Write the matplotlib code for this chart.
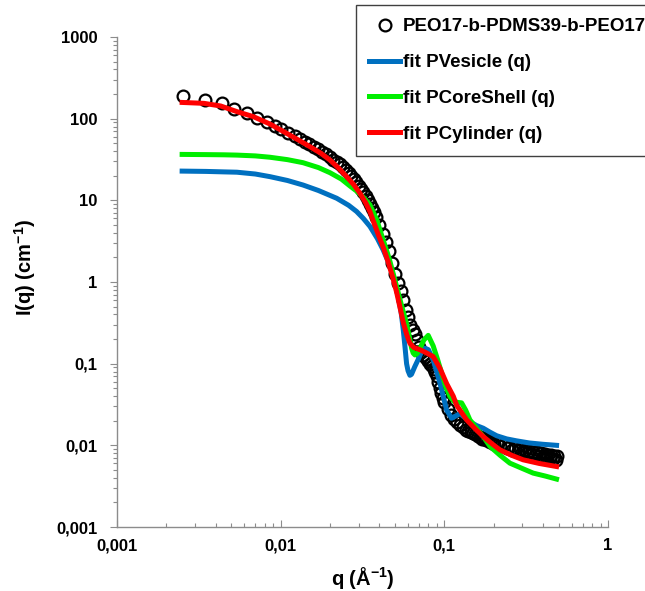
"""SAXS curve PEO17-b-PDMS39-b-PEO17 with three form-factor fits (log-log)."""
import numpy as np
import matplotlib
matplotlib.use("Agg")
import matplotlib.pyplot as plt
from matplotlib.ticker import LogLocator, FuncFormatter

plt.rcParams["font.family"] = "Liberation Sans"
plt.rcParams["font.weight"] = "bold"
plt.rcParams["mathtext.fontset"] = "custom"
plt.rcParams["mathtext.rm"] = "Liberation Sans"
plt.rcParams["mathtext.bf"] = "Liberation Sans:bold"

q_data = [0.00254, 0.00345, 0.00436, 0.00521, 0.0062, 0.0072, 0.0082, 0.0092, 0.0101, 0.0111, 0.0122,
          0.0131, 0.0141, 0.0150, 0.0160, 0.0170, 0.0180, 0.0190, 0.0200, 0.0210, 0.0220, 0.0230,
          0.0240, 0.0250, 0.0260, 0.0270, 0.0280, 0.0290, 0.0300, 0.0310, 0.0320, 0.0330, 0.0340,
          0.0350, 0.0360, 0.0370, 0.0380,
          0.040, 0.042, 0.044, 0.046, 0.048, 0.050, 0.052, 0.054, 0.056, 0.058, 0.060, 0.062, 0.064,
          0.066, 0.068, 0.070, 0.072, 0.074, 0.076, 0.078, 0.080, 0.082, 0.084, 0.086, 0.088, 0.090,
          0.092, 0.094, 0.096, 0.098, 0.100,
          0.105, 0.110, 0.115, 0.120, 0.125, 0.130, 0.135, 0.140, 0.145,
          0.150, 0.155, 0.160, 0.165, 0.170, 0.175, 0.180, 0.185, 0.190, 0.195,
          0.20, 0.21, 0.22, 0.23, 0.24, 0.25, 0.26, 0.27, 0.28, 0.29, 0.30, 0.31, 0.32, 0.33, 0.34,
          0.35, 0.36, 0.37, 0.38, 0.39, 0.40, 0.41, 0.42, 0.43, 0.44, 0.45, 0.46, 0.47, 0.48, 0.485]
I_data = [192, 171, 154, 131, 117, 102, 91, 81, 74, 67, 61,
          56.5, 52.5, 49, 45.5, 42.3, 39.4, 36.5, 33.8, 31.6, 29.5, 27.5,
          25.5, 23.6, 21.8, 20.0, 18.3, 16.6, 15.0, 13.8, 12.6, 11.3, 10.1,
          9.0, 8.0, 7.1, 6.3,
          5.0, 3.9, 3.1, 2.4, 1.7, 1.25, 0.98, 0.78, 0.60, 0.46, 0.37, 0.30, 0.26,
          0.23, 0.195, 0.16, 0.138, 0.128, 0.121, 0.115, 0.107, 0.100, 0.093, 0.086, 0.078, 0.071,
          0.060, 0.051, 0.044, 0.038, 0.034,
          0.028, 0.0238, 0.0212, 0.0192, 0.0176, 0.0167, 0.0156, 0.0151, 0.0144,
          0.0140, 0.0136, 0.0129, 0.0127, 0.0121, 0.0122, 0.0115, 0.0117, 0.0110, 0.0111,
          0.0104, 0.0106, 0.0098, 0.0100, 0.0093, 0.0095, 0.0088, 0.0092, 0.0085, 0.0090, 0.0082,
          0.0088, 0.0080, 0.0086, 0.0077, 0.0084, 0.0076, 0.0082, 0.0074, 0.0080, 0.0072, 0.0079,
          0.0071, 0.0077, 0.0069, 0.0076, 0.0068, 0.0074, 0.0067, 0.0073]

# fit PVesicle
q_blue = [0.0025, 0.0035, 0.0045, 0.0054, 0.0070, 0.0086, 0.0110, 0.0137, 0.0170, 0.0220, 0.0260,
          0.0291, 0.0320, 0.0351, 0.0390, 0.0423, 0.0450, 0.0476, 0.0500, 0.0523, 0.0545, 0.0561,
          0.0575, 0.0588, 0.0600, 0.0616, 0.0630, 0.0660, 0.0693, 0.0725, 0.0761, 0.0800, 0.0855,
          0.0900, 0.0940, 0.0990, 0.1033, 0.1108, 0.1180, 0.1245, 0.1330, 0.1433, 0.1570, 0.1730,
          0.1900, 0.2090, 0.2400, 0.2765, 0.3300, 0.4000, 0.4850]
I_blue = [22.8, 22.6, 22.3, 22.1, 21.0, 19.5, 17.5, 15.4, 13.2, 10.6, 8.7,
          7.3, 6.0, 4.8, 3.4, 2.47, 1.85, 1.41, 1.0, 0.66, 0.42, 0.26,
          0.16, 0.10, 0.082, 0.072, 0.074, 0.092, 0.113, 0.140, 0.155, 0.148, 0.111,
          0.078, 0.058, 0.038, 0.027, 0.0215, 0.023, 0.0245, 0.022, 0.0195, 0.0175, 0.0162,
          0.0145, 0.0131, 0.0120, 0.01135, 0.0107, 0.0103, 0.0100]

# fit PCoreShell
q_green = [0.0025, 0.0035, 0.0045, 0.0054, 0.0070, 0.0086, 0.0110, 0.0137, 0.0170, 0.0200, 0.0235,
           0.0265, 0.0291, 0.0320, 0.0351, 0.0385, 0.0423, 0.0460, 0.0511, 0.0550, 0.0588, 0.0615,
           0.0631, 0.0645, 0.0661, 0.0680, 0.0700, 0.0750, 0.0797, 0.0855, 0.0910, 0.0963, 0.1020,
           0.1082, 0.1145, 0.1210, 0.1275, 0.1350, 0.1433, 0.1580, 0.1729, 0.1900, 0.2200, 0.2515,
           0.3000, 0.3490, 0.4150, 0.4850]
I_green = [36.5, 36.3, 36.1, 35.8, 35.0, 33.7, 31.5, 28.9, 25.2, 21.8, 18.2,
           15.0, 13.0, 10.9, 8.8, 5.9, 3.27, 1.95, 0.88, 0.50, 0.31, 0.20,
           0.155, 0.135, 0.128, 0.132, 0.145, 0.195, 0.222, 0.165, 0.112, 0.0765, 0.052,
           0.0396, 0.0345, 0.0335, 0.0331, 0.027, 0.0205, 0.0160, 0.0128, 0.0097, 0.0075, 0.00605,
           0.0052, 0.00457, 0.0042, 0.00386]

# fit PCylinder
q_red = [0.0025, 0.0034, 0.0043, 0.0054, 0.0068, 0.0086, 0.0109, 0.0128, 0.0151, 0.0175, 0.0200,
         0.0225, 0.0253, 0.0280, 0.0305, 0.0330, 0.0351, 0.0368, 0.0395, 0.0425, 0.0454, 0.0485,
         0.0511, 0.0537, 0.0561, 0.0590, 0.0616, 0.0650, 0.0710, 0.0780, 0.0855, 0.0940, 0.1033,
         0.1134, 0.1189, 0.1368, 0.1550, 0.1729, 0.1950, 0.2186, 0.2600, 0.3030, 0.3800, 0.4850]
I_red = [158, 154, 143, 122, 106, 86, 66, 55, 45.4, 38, 31.2,
         25, 19.5, 15.5, 12.2, 9.4, 7.3, 5.6, 3.8, 2.6, 1.75, 1.12,
         0.75, 0.48, 0.32, 0.225, 0.178, 0.158, 0.148, 0.135, 0.122, 0.088, 0.057,
         0.040, 0.031, 0.0205, 0.0158, 0.0128, 0.0105, 0.0088, 0.0075, 0.00665, 0.0060, 0.0055]

LABELS = ["PEO17-b-PDMS39-b-PEO17", "fit PVesicle (q)", "fit PCoreShell (q)", "fit PCylinder (q)"]
X_TICKS = [0.001, 0.01, 0.1, 1]
Y_TICKS = [0.001, 0.01, 0.1, 1, 10, 100, 1000]


def comma(v, pos):
    return f"{v:g}".replace(".", ",")


W, H = 645, 591
fig = plt.figure(figsize=(W / 100, H / 100), dpi=100)
ax = fig.add_axes([117 / W, 1 - 527 / H, 491 / W, 490 / H])

ax.plot(q_data, I_data, "o", mfc="none", mec="black", ms=8.5, mew=1.6, label=LABELS[0], zorder=2)
ax.plot(q_blue, I_blue, color="#0070C0", lw=3.6, label=LABELS[1], zorder=3)
ax.plot(q_green, I_green, color="#00EE00", lw=3.6, label=LABELS[2], zorder=4)
ax.plot(q_red, I_red, color="#FF0000", lw=3.6, label=LABELS[3], zorder=5)

ax.set_xscale("log")
ax.set_yscale("log")
ax.set_xlim(1e-3, 1)
ax.set_ylim(1e-3, 1e3)
ax.set_xticks(X_TICKS)
ax.set_yticks(Y_TICKS)
ax.xaxis.set_minor_locator(LogLocator(10, subs=np.arange(2, 10), numticks=20))
ax.yaxis.set_minor_locator(LogLocator(10, subs=np.arange(2, 10), numticks=20))
ax.xaxis.set_major_formatter(FuncFormatter(comma))
ax.yaxis.set_major_formatter(FuncFormatter(comma))

for s in ["top", "right"]:
    ax.spines[s].set_visible(False)
for s in ["left", "bottom"]:
    ax.spines[s].set_color("#8c8c8c")
    ax.spines[s].set_linewidth(1.0)

ax.tick_params(which="both", color="#8c8c8c", labelcolor="black", labelsize=12, width=0.8)
ax.tick_params(axis="x", which="both", direction="in")
ax.tick_params(axis="y", which="both", direction="out")
ax.tick_params(which="major", length=5)
ax.tick_params(which="minor", length=3)
ax.tick_params(axis="x", which="major", pad=8)
ax.tick_params(axis="y", which="major", pad=9)

fig.text(25 / W, 1 - 267 / H, r"I(q) (cm$^{\mathbf{-1}}$)", rotation=90,
         ha="center", va="center", fontsize=14.5)
fig.text(363 / W, 1 - 578 / H, r"q (Å$^{\mathbf{-1}}$)", ha="center", va="center", fontsize=14.5)

leg = ax.legend(loc="upper left", bbox_to_anchor=(356 / W, 1 - 5 / H), bbox_transform=fig.transFigure,
                borderaxespad=0, fontsize=13.5, handlelength=1.65, handletextpad=0.15, borderpad=0.7,
                labelspacing=1.0, numpoints=1, fancybox=False, framealpha=1)
leg.get_frame().set_edgecolor("#404040")
leg.get_frame().set_linewidth(1.0)

fig.savefig("out.png", dpi=100)
